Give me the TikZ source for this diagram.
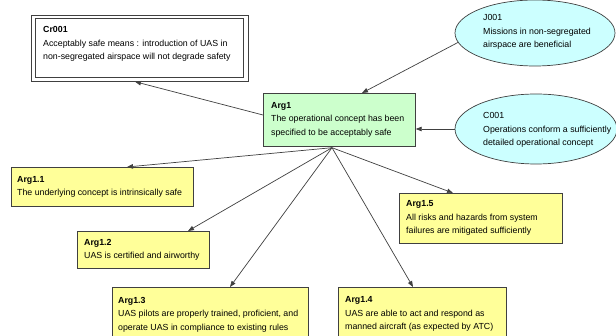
\documentclass[tikz,border=0pt]{standalone}
\usepackage{fontspec}
\setmainfont{Liberation Sans}
\usetikzlibrary{shapes.geometric,arrows.meta,calc}
\definecolor{argyellow}{HTML}{FFFF99}
\definecolor{arggreen}{HTML}{CCFFCC}
\definecolor{ctxcyan}{HTML}{CCFFFF}
\definecolor{edgegray}{HTML}{404040}
\begin{document}
\begin{tikzpicture}[x=1pt,y=-1pt,
  boxline/.style={draw=edgegray, line width=0.7pt},
  argbox/.style={boxline, fill=argyellow, anchor=north west, inner sep=0pt, rectangle},
  ctxell/.style={boxline, fill=ctxcyan, ellipse, inner sep=0pt},
  txt/.style={anchor=west, align=left, inner sep=0pt, font=\fontsize{8.8}{13.5}\selectfont},
  conn/.style={draw=edgegray, line width=0.7pt, -{Triangle[length=6pt,width=4.5pt]}}
]
\useasboundingbox (0,0) rectangle (616,336);
\fill[white] (0,0) rectangle (616,336);
\clip (0,0) rectangle (616,336);

% Cr001 (double border)
\node[boxline, fill=white, anchor=north west, inner sep=0pt, minimum width=208pt, minimum height=59pt] (cr) at (35,18) {};
\draw[boxline] ($(cr.north west)+(-4,-3)$) rectangle ($(cr.south east)+(5,4)$);
\node[txt] (crt) at ($(cr.west)+(8,-4)$) {\textbf{Cr001}\\Acceptably safe means : introduction of UAS in\\non-segregated airspace will not degrade safety};

% Arg1
\node[argbox, fill=arggreen, minimum width=152pt, minimum height=53pt] (a1) at (263,93) {};
\node[txt] (a1t) at ($(a1.west)+(8,0)$) {\textbf{Arg1}\\The operational concept has been\\specified to be acceptably safe};

% Context ellipses
\node[ctxell, minimum width=160pt, minimum height=66pt] (j) at (535,33) {};
\node[txt] (jt) at (483,32) {J001\\Missions in non-segregated\\airspace are beneficial};
\node[ctxell, minimum width=162pt, minimum height=70pt] (c) at (536,129) {};
\node[txt] (ct) at (483,130) {C001\\Operations conform a sufficiently\\detailed operational concept};

% Sub-arguments
\node[argbox, minimum width=182pt, minimum height=39pt] (a11) at (11,167) {};
\node[txt] (a11t) at ($(a11.west)+(6,0)$) {\textbf{Arg1.1}\\The underlying concept is intrinsically safe};
\node[argbox, minimum width=132pt, minimum height=37pt] (a12) at (77,231) {};
\node[txt] (a12t) at ($(a12.west)+(7,0)$) {\textbf{Arg1.2}\\UAS is certified and airworthy};
\node[argbox, minimum width=196pt, minimum height=54pt] (a13) at (112,287) {};
\node[txt] (a13t) at ($(a13.west)+(6,0)$) {\textbf{Arg1.3}\\UAS pilots are properly trained, proficient, and\\operate UAS in compliance to existing rules};
\node[argbox, minimum width=168pt, minimum height=54pt] (a14) at (338,287) {};
\node[txt] (a14t) at ($(a14.west)+(7,0)$) {\textbf{Arg1.4}\\UAS are able to act and respond as\\manned aircraft (as expected by ATC)};
\node[argbox, minimum width=163pt, minimum height=50pt] (a15) at (399,193) {};
\node[txt] (a15t) at ($(a15.west)+(7,0)$) {\textbf{Arg1.5}\\All risks and hazards from system\\failures are mitigated sufficiently};

% Connectors
\coordinate (a1left) at ($(a1.north west)+(0,22)$);
\coordinate (crin) at ($(cr.south west)+(100,4)$);
\draw[conn] (a1left) -- (crin);
\coordinate (a1top) at ($(a1.north west)+(99,0)$);
\draw[conn] (j.187) -- (a1top);
\draw[conn] (c.west) -- (c.west -| a1.east);
\coordinate (hub) at ($(a1.south west)+(69,1)$);
\draw[conn] (hub) -- ($(a11.north west)+(116,0)$);
\draw[conn] (hub) -- ($(a12.north west)+(111,0)$);
\draw[conn] (hub) -- ($(a13.north west)+(118,0)$);
\draw[conn] (hub) -- ($(a14.north west)+(75,0)$);
\draw[conn] (hub) -- ($(a15.north west)+(54,0)$);
\end{tikzpicture}
\end{document}
